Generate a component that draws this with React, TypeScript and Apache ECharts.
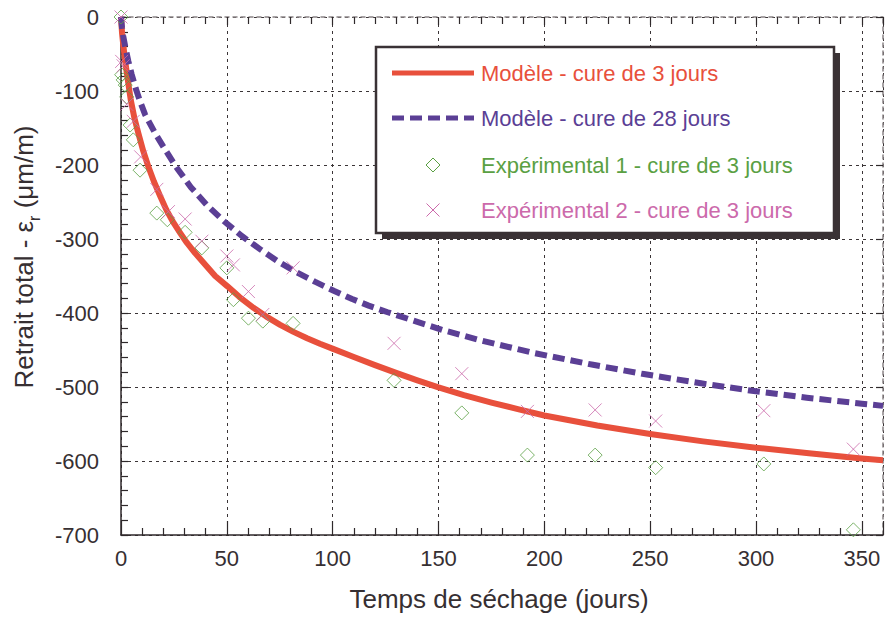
import React, { useEffect, useRef } from "react";
import * as echarts from "echarts";

// ---- Data ----
const model3T = [0, 0.5, 1, 2, 3, 4.6, 6.3, 8.2, 10.5, 12.9, 15.5, 18.5, 21.5, 24.8, 28, 31.1, 35, 39, 44.5, 50.3, 56, 62.6, 68.5, 75.2, 81.5, 87.9, 94, 100.2, 110, 120, 130, 140, 150, 162, 175, 187.5, 200, 225, 250, 275, 300, 325, 350, 360];
const model3V = [0, -22, -36, -60, -81, -112, -136, -157, -181, -202, -222, -242, -261, -278, -292, -305, -319, -332, -350, -364, -378.5, -393, -404.5, -416, -425.5, -434, -441.5, -448.5, -459.5, -470.5, -481, -491, -500.5, -511, -521, -530, -538.5, -552, -563.5, -573.5, -582, -589.5, -596.5, -599];

const model28T = [0, 0.5, 1, 2, 3.5, 5, 7, 9, 11.4, 16.1, 20.8, 26.4, 33, 40.5, 48.7, 57.1, 65.8, 74.5, 83, 91.8, 100.5, 109.2, 117, 126, 152, 170, 195, 223, 247, 274, 299, 324, 350, 360];
const model28V = [0, -15, -25, -40, -60, -77, -97, -114, -132, -157, -179, -204, -230, -254, -276, -296, -314, -331, -345, -358, -370, -381, -390, -399, -423, -437, -454, -470, -482.5, -495, -505.5, -514.5, -522.5, -525.5];

const exp1T = [0, 0.3, 1, 2, 2.7, 4.3, 5.8, 9, 16.9, 21.9, 30.3, 38.2, 50, 53.1, 60.2, 67, 81.3, 129, 161, 192, 224, 252.6, 303.7, 346];
const exp1V = [0, -78, -85, -92, -108, -146, -166, -207, -265, -274, -291, -312, -339, -382, -407, -411, -414, -491, -535, -592, -592, -609, -604, -693];

const exp2T = [0, 0.3, 1, 2.7, 5.8, 9.3, 16.9, 22.4, 30.3, 38.2, 50, 53.1, 60.2, 67, 81.3, 129, 161, 192, 224, 252.6, 303.7, 346];
const exp2V = [0, -60, -66, -118, -141, -189, -233, -263, -273, -303, -323, -335, -371, -402, -339, -441, -482, -533, -531, -546, -532, -584];

const xTicks = [0, 50, 100, 150, 200, 250, 300, 350];
const yTicks = [0, -100, -200, -300, -400, -500, -600, -700];

const legendNames = [
  "Modèle - cure de 3 jours",
  "Modèle - cure de 28 jours",
  "Expérimental 1 - cure de 3 jours",
  "Expérimental 2 - cure de 3 jours",
];

const RED = "#e8503c";
const PURPLE = "#5b3f95";
const GREEN = "#5aa043";
const PINK = "#cc6aab";
const TEXT = "#362f32";
const AXIS = "#2f292b";
const FONT = "'Liberation Sans', Arial, Helvetica, sans-serif";

const zip = (a: number[], b: number[]) => a.map((t, i) => [t, b[i]]);

export default function App() {
  const ref = useRef<HTMLDivElement>(null);
  useEffect(() => {
    document.body.style.margin = "0";
    const chart = echarts.init(ref.current!, undefined, { renderer: "svg" });
    const lx0 = 392, lx1 = 474, lcx = 433, tx = 481;
    const rows = [73, 118, 165, 210];
    const crossPath = "path://M0,0L10,10M10,0L0,10";
    chart.setOption({
      animation: false,
      backgroundColor: "#ffffff",
      textStyle: { fontFamily: FONT },
      grid: { left: 121, top: 17, right: 2, bottom: 84, containLabel: false },
      xAxis: [
        {
          type: "value", min: 0, max: 360, interval: 50, position: "bottom",
          axisLine: { show: true, onZero: false, lineStyle: { color: AXIS, width: 1.5 } },
          axisTick: { show: true, inside: true, length: 14, lineStyle: { color: AXIS, width: 1.2 } },
          minorTick: { show: true, splitNumber: 5, length: 7, lineStyle: { color: AXIS, width: 1.2 } },
          splitLine: { show: true, lineStyle: { color: "#3a3436", width: 1, type: [3, 4] } },
          axisLabel: {
            fontSize: 22, color: TEXT, margin: 12, fontFamily: FONT, showMaxLabel: false,
            formatter: (v: number) => (xTicks.includes(v) ? String(v) : ""),
          },
        },
        {
          type: "value", min: 0, max: 360, interval: 50, position: "top",
          axisLine: { show: true, onZero: false, lineStyle: { color: "#8a8486", width: 1.5, type: [4, 4] } },
          axisTick: { show: true, inside: true, length: 8, lineStyle: { color: AXIS, width: 1.2 } },
          minorTick: { show: true, splitNumber: 5, length: 7, lineStyle: { color: AXIS, width: 1.2 } },
          splitLine: { show: false },
          axisLabel: { show: false },
        },
      ],
      yAxis: [
        {
          type: "value", min: -700, max: 0, interval: 100, position: "left",
          axisLine: { show: true, onZero: false, lineStyle: { color: AXIS, width: 1.5 } },
          axisTick: { show: true, inside: true, length: 7, lineStyle: { color: AXIS, width: 1.2 } },
          minorTick: { show: true, splitNumber: 5, length: 7, lineStyle: { color: AXIS, width: 1.2 } },
          splitLine: { show: true, lineStyle: { color: "#3a3436", width: 1, type: [3, 4] } },
          axisLabel: {
            fontSize: 22, color: TEXT, margin: 22, fontFamily: FONT,
            formatter: (v: number) => (yTicks.includes(v) ? String(v) : ""),
          },
        },
        {
          type: "value", min: -700, max: 0, interval: 100, position: "right",
          axisLine: { show: true, onZero: false, lineStyle: { color: "#8a8486", width: 1.5, type: [4, 4] } },
          axisTick: { show: true, inside: true, length: 7, lineStyle: { color: AXIS, width: 1.2 } },
          minorTick: { show: false },
          splitLine: { show: false },
          axisLabel: { show: false },
        },
      ],
      series: [
        {
          name: legendNames[0], type: "line", data: zip(model3T, model3V),
          showSymbol: false, smooth: false,
          lineStyle: { color: RED, width: 6, join: "round" }, z: 3,
        },
        {
          name: legendNames[1], type: "line", data: zip(model28T, model28V),
          showSymbol: false, smooth: false,
          lineStyle: { color: PURPLE, width: 6, type: [12, 6], cap: "butt", join: "round" }, z: 3,
        },
        {
          name: legendNames[2], type: "scatter", data: zip(exp1T, exp1V),
          symbol: "diamond", symbolSize: 14,
          itemStyle: { color: "transparent", borderColor: GREEN, borderWidth: 1 }, z: 4,
        },
        {
          name: legendNames[3], type: "scatter", data: zip(exp2T, exp2V),
          symbol: crossPath, symbolSize: 13,
          itemStyle: { color: "transparent", borderColor: PINK, borderWidth: 1 }, z: 4,
        },
      ],
      graphic: {
        elements: [
          { type: "rect", z: 10, shape: { x: 382, y: 53, width: 458, height: 186 }, style: { fill: "#3a3235" } },
          { type: "rect", z: 11, shape: { x: 376, y: 47, width: 458, height: 186 }, style: { fill: "#ffffff", stroke: "#3a3235", lineWidth: 2.5 } },
          { type: "line", z: 12, shape: { x1: lx0, y1: rows[0], x2: lx1, y2: rows[0] }, style: { stroke: RED, lineWidth: 5 } },
          { type: "line", z: 12, shape: { x1: lx0, y1: rows[1], x2: lx1, y2: rows[1] }, style: { stroke: PURPLE, lineWidth: 5, lineDash: [12, 6] } },
          {
            type: "polygon", z: 12,
            shape: { points: [[lcx, rows[2] - 7], [lcx + 7, rows[2]], [lcx, rows[2] + 7], [lcx - 7, rows[2]]] },
            style: { fill: "none", stroke: GREEN, lineWidth: 1 },
          },
          { type: "line", z: 12, shape: { x1: lcx - 6.5, y1: rows[3] - 6.5, x2: lcx + 6.5, y2: rows[3] + 6.5 }, style: { stroke: PINK, lineWidth: 1 } },
          { type: "line", z: 12, shape: { x1: lcx + 6.5, y1: rows[3] - 6.5, x2: lcx - 6.5, y2: rows[3] + 6.5 }, style: { stroke: PINK, lineWidth: 1 } },
          ...[RED, PURPLE, GREEN, PINK].map((c, i) => ({
            type: "text", z: 12, x: tx, y: rows[i],
            style: { text: legendNames[i], fill: c, font: `22px ${FONT}`, verticalAlign: "middle", align: "left" },
          })),
          {
            type: "text", z: 12, x: 499, y: 599,
            style: { text: "Temps de séchage (jours)", fill: TEXT, font: `26px ${FONT}`, align: "center", verticalAlign: "middle" },
          },
          {
            type: "text", z: 12, x: 24, y: 257, rotation: Math.PI / 2,
            style: {
              text: "{a|Retrait total - ε}{s|r}{a| (μm/m)}",
              fill: TEXT, align: "center", verticalAlign: "middle",
              rich: {
                a: { fontSize: 26, fontFamily: FONT, color: TEXT, lineHeight: 36 },
                s: { fontSize: 16, fontFamily: FONT, color: TEXT, lineHeight: 16, verticalAlign: "bottom" },
              },
            },
          },
        ],
      },
    });
    return () => chart.dispose();
  }, []);
  return <div ref={ref} style={{ position: "fixed", left: 0, top: 0, width: 885, height: 619 }} />;
}
